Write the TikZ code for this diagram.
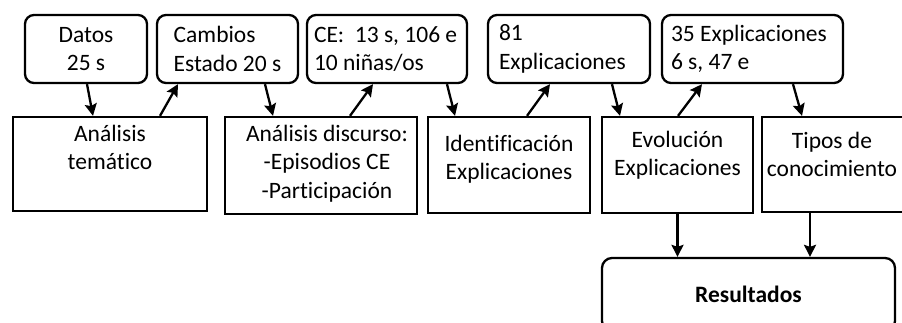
\documentclass[tikz,border=0pt]{standalone}
\usepackage{fontspec}
\setmainfont{Carlito}[Ligatures=NoCommon]
\usetikzlibrary{positioning,arrows.meta}

\tikzset{
paso/.style={draw, line width=2.3pt, rounded corners=9pt, minimum height=68pt, inner ysep=0pt},
etapa/.style={draw, line width=2.3pt, inner sep=0pt},
rotulo/.style={align=center, inner sep=0pt},
final/.style={draw, line width=2.3pt, rounded corners=10pt, font=\fontsize{23.5}{28.5}\selectfont\bfseries},
flecha/.style={line width=2.3pt, -{Stealth[length=12pt,width=12pt,inset=2pt]}}
}

\begin{document}
\begin{tikzpicture}[x=1pt, y=-1pt, font=\fontsize{23.5}{28.5}\selectfont]
\useasboundingbox (0,0) rectangle (902,322);
% fila de arriba
\node[paso, minimum width=122pt, align=center] (datos) at (86,49) {Datos\\25 s};
\node[paso, minimum width=141pt, align=left] (camb) at (227.5,49) {Cambios\\Estado 20 s};
\node[paso, inner xsep=7pt, text width=146pt, align=flush left] (ce) at (387,49) {CE:\ \ 13 s, 106 e\\10 niñas/os};
\node[paso, inner xsep=11pt, text width=140pt, align=flush left] (ochenta) at (569,49) {81\\Explicaciones};
\node[paso, inner xsep=9pt, text width=163pt, align=flush left] (treinta) at (752.5,49) {35 Explicaciones\\6 s, 47 e};
% fila de abajo
\node[etapa, minimum width=194pt, minimum height=94pt] (tem) at (110,164) {};
\node[rotulo, below=9pt of tem.north] (temtxt) {Análisis\\temático};
\node[etapa, minimum width=192pt, minimum height=97pt] (disc) at (321,165.5) {};
\node[rotulo, below=9pt of disc.north, xshift=6pt] (disctxt) {Análisis discurso:\\-Episodios CE\\-Participación};
\node[etapa, minimum width=162pt, minimum height=96pt] (ident) at (509,165) {};
\node[rotulo, below=19pt of ident.north] (identtxt) {Identificación\\Explicaciones};
\node[etapa, minimum width=151pt, minimum height=96pt] (evol) at (677.5,165) {};
\node[rotulo, below=15pt of evol.north] (evoltxt) {Evolución\\Explicaciones};
\node[etapa, minimum width=148pt, minimum height=95pt] (tipos) at (836,164.5) {};
\node[rotulo, below=16pt of tipos.north, xshift=-4pt] (tipostxt) {Tipos de\\conocimiento};
\node[final, minimum width=293pt, minimum height=73pt] (res) at (748.5,294.5) {Resultados};
% flechas
\draw[flecha] ([xshift=1pt]datos.south) -- ([xshift=-17pt]tem.north);
\draw[flecha] ([xshift=50pt]tem.north) -- ([xshift=-49.5pt]camb.south);
\draw[flecha] ([xshift=37.5pt]camb.south) -- ([xshift=-48pt]disc.north);
\draw[flecha] ([xshift=29pt]disc.north) -- ([xshift=-14pt]ce.south);
\draw[flecha] ([xshift=60pt]ce.south) -- ([xshift=-54pt]ident.north);
\draw[flecha] ([xshift=18pt]ident.north) -- ([xshift=-19pt]ochenta.south);
\draw[flecha] ([xshift=43pt]ochenta.south) -- ([xshift=-57.5pt]evol.north);
\draw[flecha] ([xshift=0.5pt]evol.north) -- ([xshift=-50.5pt]treinta.south);
\draw[flecha] ([xshift=40.5pt]treinta.south) -- ([xshift=-34pt]tipos.north);
\draw[flecha] (evol.south) -- (evol.south |- res.north);
\draw[flecha] ([xshift=-26pt]tipos.south) -- ([xshift=-26pt]tipos.south |- res.north);
\end{tikzpicture}
\end{document}
